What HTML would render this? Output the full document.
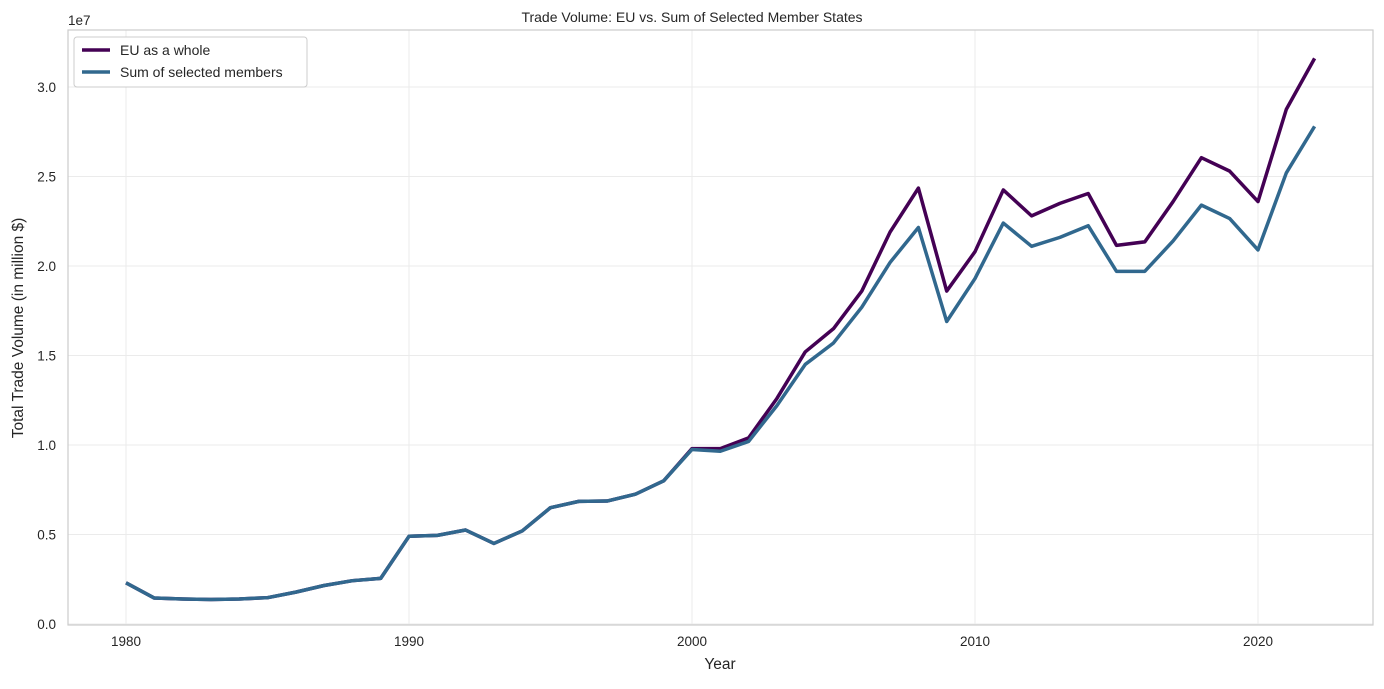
<!DOCTYPE html>
<html><head><meta charset="utf-8"><style>
body{margin:0;background:#fff;font-family:"Liberation Sans","DejaVu Sans",sans-serif;}
svg text{font-family:"Liberation Sans","DejaVu Sans",sans-serif;fill:#262626;}
</style></head><body>
<svg id="chart" width="1384" height="684">
<rect x="0" y="0" width="1384" height="684" fill="#fff"/>
<g id="grid"></g>
<rect x="68" y="30" width="1305" height="595" fill="none" stroke="#ccc" stroke-width="1.2"/>
<g id="ticks"></g>
<g id="lines"></g>
<text x="692" y="22" font-size="14" text-anchor="middle">Trade Volume: EU vs. Sum of Selected Member States</text>
<text x="720" y="669" font-size="15.5" text-anchor="middle">Year</text>
<text x="23" y="328" font-size="15.5" text-anchor="middle" transform="rotate(-90 23 328)">Total Trade Volume (in million $)</text>
<text x="68" y="25" font-size="13.5">1e7</text>
<g>
<rect x="74" y="37" width="233" height="50" rx="3" fill="#fff" stroke="#ccc"/>
<line x1="82" y1="50" x2="110" y2="50" stroke="#440154" stroke-width="3.5"/>
<text x="120" y="55" font-size="14">EU as a whole</text>
<line x1="82" y1="72" x2="110" y2="72" stroke="#31688e" stroke-width="3.5"/>
<text x="120" y="77" font-size="14">Sum of selected members</text>
</g>
</svg>
<script>
const years=[];for(let y=1980;y<=2022;y++)years.push(y);
const euValues=[2.3,1.45,1.4,1.37,1.4,1.47,1.78,2.15,2.42,2.55,4.9,4.95,5.25,4.5,5.2,6.5,6.85,6.87,7.25,8.0,9.8,9.8,10.4,12.6,15.2,16.5,18.6,21.9,24.35,18.6,20.8,24.25,22.8,23.5,24.05,21.15,21.35,23.6,26.05,25.3,23.6,28.75,31.6];
const sumValues=[2.3,1.45,1.4,1.37,1.4,1.47,1.78,2.15,2.42,2.55,4.9,4.95,5.25,4.5,5.2,6.5,6.85,6.87,7.25,8.0,9.75,9.65,10.2,12.2,14.5,15.7,17.7,20.2,22.15,16.9,19.3,22.4,21.1,21.6,22.25,19.7,19.7,21.4,23.4,22.65,20.9,25.2,27.8];
const xTicks=[1980,1990,2000,2010,2020];
const yTicks=[0,5,10,15,20,25,30];
const yTickLabels=["0.0","0.5","1.0","1.5","2.0","2.5","3.0"];
const NS="http://www.w3.org/2000/svg";
const xs=y=>126+(y-1980)*28.3;
const ys=v=>624-v*17.9;
const grid=document.getElementById('grid'),ticks=document.getElementById('ticks'),lines=document.getElementById('lines');
function mk(t,a,p){const e=document.createElementNS(NS,t);for(const k in a)e.setAttribute(k,a[k]);p.appendChild(e);return e;}
xTicks.forEach(t=>{
 const g=mk('line',{x1:xs(t),x2:xs(t),y1:30,y2:625,stroke:'#ebebeb'},grid);
 
 
 const l=mk('text',{x:xs(t),y:646,'font-size':13.5,'text-anchor':'middle'},ticks);l.textContent=t;
 
 
});
yTicks.forEach((t,i)=>{
 const g=mk('line',{x1:68,x2:1373,y1:ys(t),y2:ys(t),stroke:'#ebebeb'},grid);
 
 
 const l=mk('text',{x:56,y:ys(t)+5,'font-size':13.5,'text-anchor':'end'},ticks);l.textContent=yTickLabels[i];
 
 
});
function line(vals,color,name){
 const p=mk('polyline',{points:vals.map((v,i)=>xs(years[i])+','+ys(v)).join(' '),fill:'none',stroke:color,'stroke-width':3.5,'stroke-linejoin':'round'},lines);
 
 
}
line(euValues,'#440154','eu-line');
line(sumValues,'#31688e','sum-members-line');
</script>
</body></html>
